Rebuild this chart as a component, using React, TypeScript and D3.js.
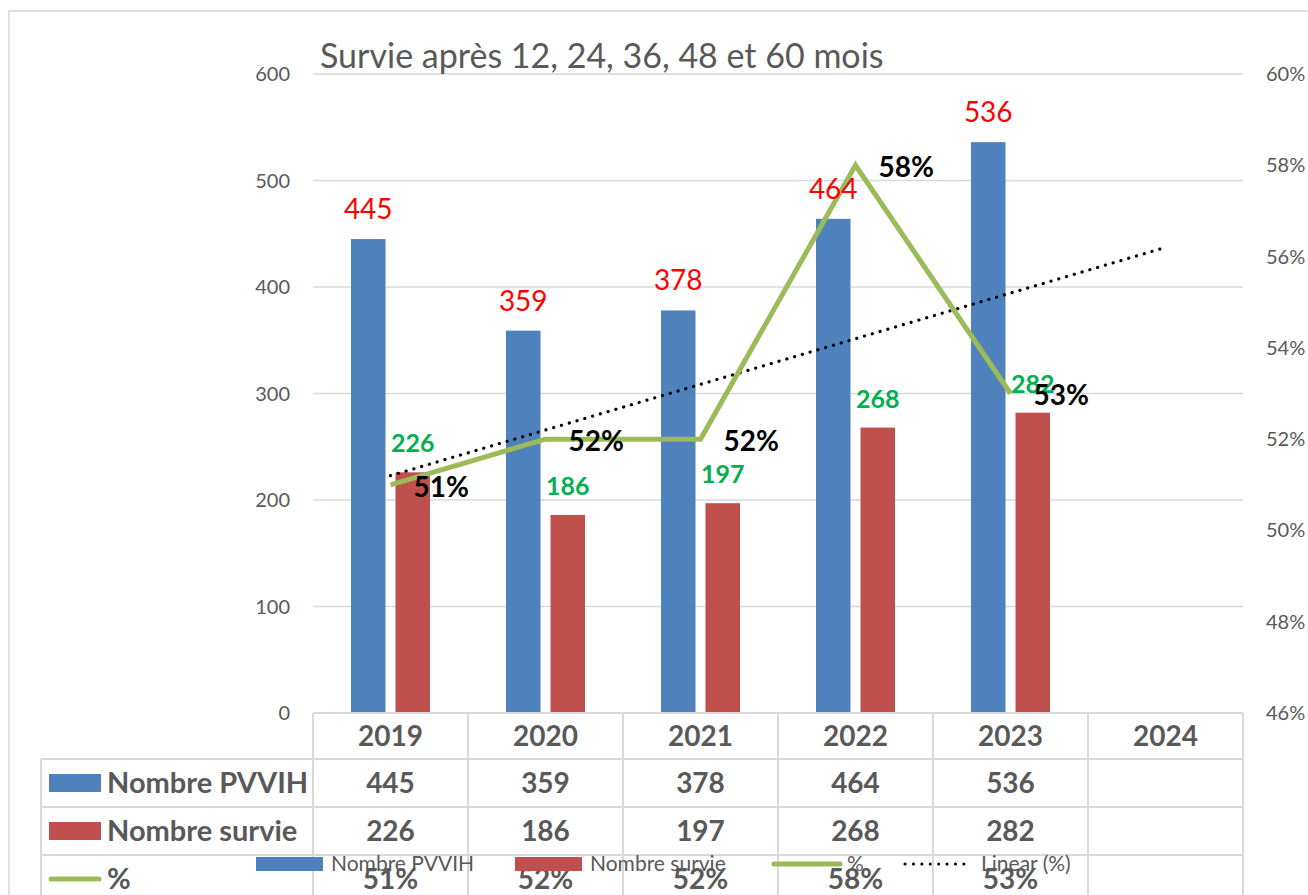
import { useEffect, useRef } from "react";
import * as d3 from "d3";

const years = ["2019", "2020", "2021", "2022", "2023", "2024"];
const pvvih = [445, 359, 378, 464, 536];
const survie = [226, 186, 197, 268, 282];
const pct = [0.51, 0.52, 0.52, 0.58, 0.53];
const leftTicks = [0, 100, 200, 300, 400, 500, 600];
const rightTicks = [0.46, 0.48, 0.5, 0.52, 0.54, 0.56, 0.58, 0.6];
const seriesNames = ["Nombre PVVIH", "Nombre survie"];

const BLUE = "#4F81BD";
const RED = "#C0504D";
const GREEN = "#9BBB59";
const GREY = "#595959";
const GRID = "#D9D9D9";
const FONT = "Lato, 'Open Sans', sans-serif";

export default function App() {
  const svgRef = useRef<SVGSVGElement>(null);

  useEffect(() => {
    if (!svgRef.current) return;
    const W = 1308, H = 895;
    const left = 313, right = 1243, top = 74, bottom = 713;

    const svg = d3.select(svgRef.current);
    svg.selectAll("*").remove();
    svg.attr("width", W).attr("height", H).style("background", "#fff");

    // outer chart border
    svg.append("rect")
      .attr("x", 9).attr("y", 11).attr("width", W + 20).attr("height", H + 20)
      .attr("fill", "none").attr("stroke", GRID).attr("stroke-width", 1.5);

    const x = d3.scaleBand().domain(years).range([left, right]);
    const xs = d3.scaleBand().domain(seriesNames).range([38, 117]).paddingInner(0.225);
    const y = d3.scaleLinear().domain([0, 600]).range([bottom, top]);
    const y2 = d3.scaleLinear().domain([0.46, 0.6]).range([bottom, top]);
    const cx = (i: number) => (x(years[i]) ?? 0) + x.bandwidth() / 2;

    // gridlines
    svg.selectAll(".grid").data(leftTicks.slice(1)).enter().append("line")
      .attr("x1", left).attr("x2", right)
      .attr("y1", d => y(d)).attr("y2", d => y(d))
      .attr("stroke", GRID).attr("stroke-width", 1.5);

    // left axis labels
    svg.selectAll(".yl").data(leftTicks).enter().append("text")
      .attr("x", 290).attr("y", d => y(d)).attr("dy", "0.35em")
      .attr("text-anchor", "end").attr("fill", GREY)
      .attr("font-family", FONT).attr("font-size", 20)
      .text(d => d);

    // right axis labels
    svg.selectAll(".yr").data(rightTicks).enter().append("text")
      .attr("x", 1266).attr("y", d => y2(d)).attr("dy", "0.35em")
      .attr("fill", GREY).attr("font-family", FONT).attr("font-size", 20)
      .text(d => d3.format(".0%")(d));

    // title
    svg.append("text")
      .attr("x", 320).attr("y", 68)
      .attr("fill", GREY).attr("font-family", FONT).attr("font-size", 34)
      .text("Survie après 12, 24, 36, 48 et 60 mois");

    // bars
    const groups = [pvvih, survie];
    const colors = [BLUE, RED];
    groups.forEach((vals, s) => {
      svg.selectAll(`.bar${s}`).data(vals).enter().append("rect")
        .attr("x", (_, i) => (x(years[i]) ?? 0) + (xs(seriesNames[s]) ?? 0))
        .attr("y", d => y(d))
        .attr("width", xs.bandwidth())
        .attr("height", d => bottom - y(d))
        .attr("fill", colors[s]);
    });

    // trendline (least squares on the % series, forward one period)
    const n = pct.length;
    const mx = d3.mean(pct, (_, i) => i) ?? 0;
    const my = d3.mean(pct) ?? 0;
    const slope = d3.sum(pct, (v, i) => (i - mx) * (v - my)) / d3.sum(pct, (_, i) => (i - mx) ** 2);
    const trendAt = (i: number) => my + slope * (i - mx);
    svg.append("line")
      .attr("x1", cx(0)).attr("y1", y2(trendAt(0)))
      .attr("x2", cx(n)).attr("y2", y2(trendAt(n)))
      .attr("stroke", "#000").attr("stroke-width", 3.2)
      .attr("stroke-linecap", "round").attr("stroke-dasharray", "0.1 8");

    // % line
    const line = d3.line<number>().x((_, i) => cx(i)).y(d => y2(d));
    svg.append("path").datum(pct).attr("d", line)
      .attr("fill", "none").attr("stroke", GREEN).attr("stroke-width", 5)
      .attr("stroke-linejoin", "miter");

    // bar labels
    svg.selectAll(".lb0").data(pvvih).enter().append("text")
      .attr("x", (_, i) => (x(years[i]) ?? 0) + (xs(seriesNames[0]) ?? 0) + xs.bandwidth() / 2)
      .attr("y", d => y(d) - 20)
      .attr("text-anchor", "middle").attr("fill", "#FF0000")
      .attr("font-family", FONT).attr("font-size", 28)
      .text(d => d);
    svg.selectAll(".lb1").data(survie).enter().append("text")
      .attr("x", (_, i) => (x(years[i]) ?? 0) + (xs(seriesNames[1]) ?? 0) + xs.bandwidth() / 2)
      .attr("y", d => y(d) - 20)
      .attr("text-anchor", "middle").attr("fill", "#00B050")
      .attr("font-family", FONT).attr("font-size", 25).attr("font-weight", 700)
      .text(d => d);
    svg.selectAll(".lbp").data(pct).enter().append("text")
      .attr("x", (_, i) => cx(i) + 23)
      .attr("y", d => y2(d) + 2).attr("dy", "0.35em")
      .attr("fill", "#000").attr("font-family", FONT)
      .attr("font-size", 28).attr("font-weight", 700)
      .text(d => d3.format(".0%")(d));

    // data table
    const rowTop = [713, 759, 807, 855, 903];
    const labelLeft = 41;
    const t = svg.append("g");
    const tl = (x1: number, y1: number, x2: number, y2v: number) =>
      t.append("line").attr("x1", x1).attr("y1", y1).attr("x2", x2).attr("y2", y2v)
        .attr("stroke", GRID).attr("stroke-width", 2);
    tl(left, rowTop[0], right, rowTop[0]);
    rowTop.slice(1).forEach(r => tl(labelLeft, r, right, r));
    tl(labelLeft, rowTop[1], labelLeft, rowTop[4]);
    years.forEach(yr => tl(x(yr) ?? 0, rowTop[0], x(yr) ?? 0, rowTop[4]));
    tl(right, rowTop[0], right, rowTop[4]);

    const cellText = (txt: string, cxv: number, row: number) =>
      t.append("text")
        .attr("x", cxv).attr("y", (rowTop[row] + rowTop[row + 1]) / 2).attr("dy", "0.35em")
        .attr("text-anchor", "middle").attr("fill", GREY)
        .attr("font-family", FONT).attr("font-size", 28).attr("font-weight", 700)
        .text(txt);
    years.forEach((yr, i) => cellText(yr, cx(i), 0));
    pvvih.forEach((v, i) => cellText(String(v), cx(i), 1));
    survie.forEach((v, i) => cellText(String(v), cx(i), 2));
    pct.forEach((v, i) => cellText(d3.format(".0%")(v), cx(i), 3));

    const rowLabels = ["Nombre PVVIH", "Nombre survie", "%"];
    rowLabels.forEach((lab, k) => {
      const mid = (rowTop[k + 1] + rowTop[k + 2]) / 2;
      if (k < 2) {
        t.append("rect").attr("x", 49).attr("y", mid - 9).attr("width", 52).attr("height", 18)
          .attr("fill", colors[k]);
      } else {
        t.append("line").attr("x1", 51).attr("x2", 99).attr("y1", mid).attr("y2", mid)
          .attr("stroke", GREEN).attr("stroke-width", 5).attr("stroke-linecap", "round");
      }
      t.append("text").attr("x", 107).attr("y", mid).attr("dy", "0.35em")
        .attr("fill", GREY).attr("font-family", FONT).attr("font-size", 29).attr("font-weight", 700)
        .text(lab);
    });

    // bottom legend
    const lg = svg.append("g");
    const ly = 864;
    const legendItems = [
      { label: "Nombre PVVIH", kind: "bar", color: BLUE, x0: 256 },
      { label: "Nombre survie", kind: "bar", color: RED, x0: 515 },
      { label: "%", kind: "line", color: GREEN, x0: 772 },
      { label: "Linear (%)", kind: "dot", color: "#000", x0: 905 },
    ];
    legendItems.forEach(it => {
      if (it.kind === "bar") {
        lg.append("rect").attr("x", it.x0).attr("y", ly - 7).attr("width", 67).attr("height", 14)
          .attr("fill", it.color);
      } else if (it.kind === "line") {
        lg.append("line").attr("x1", it.x0 + 2).attr("x2", it.x0 + 68).attr("y1", ly).attr("y2", ly)
          .attr("stroke", it.color).attr("stroke-width", 5).attr("stroke-linecap", "round");
      } else {
        lg.append("line").attr("x1", it.x0).attr("x2", it.x0 + 67).attr("y1", ly).attr("y2", ly)
          .attr("stroke", it.color).attr("stroke-width", 3).attr("stroke-linecap", "round")
          .attr("stroke-dasharray", "0.1 8.3");
      }
      lg.append("text").attr("x", it.x0 + (it.kind === "dot" ? 76 : 75)).attr("y", ly + 7)
        .attr("fill", GREY).attr("font-family", FONT).attr("font-size", 21)
        .text(it.label);
    });
  }, []);

  return (
    <div style={{ position: "absolute", left: 0, top: 0 }}>
      <svg ref={svgRef} />
    </div>
  );
}
